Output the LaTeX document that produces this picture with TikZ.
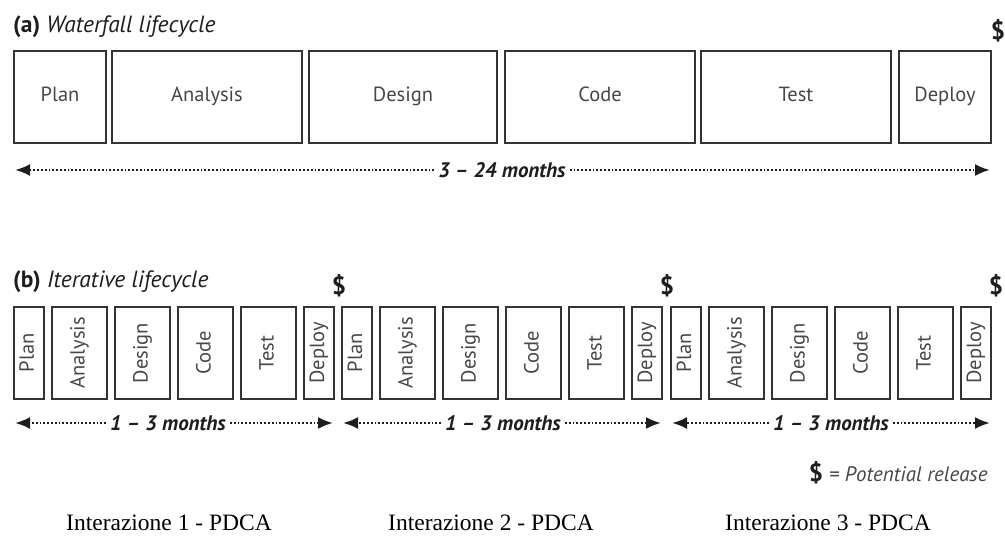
\documentclass[tikz,border=0pt]{standalone}
\usepackage{fontspec}
\setmainfont{Liberation Serif}
\newfontfamily\hum{PT Sans}
\usetikzlibrary{arrows.meta}
\definecolor{edge}{HTML}{333333}
\definecolor{lbl}{HTML}{474747}
\definecolor{ink}{HTML}{1E1E1E}
\begin{document}
\begin{tikzpicture}[x=1pt,y=-1pt,
  phase/.style={draw=edge, line width=2.2pt, fill=white, inner sep=0pt,
    text height=14pt, text depth=4pt,
    font=\hum\fontsize{20.5}{24}\selectfont, text=lbl},
  hphase/.style={phase, minimum height=92pt},
  vphase/.style={phase, rotate=90, minimum width=92pt},
  span/.style={dash pattern=on 1.8pt off 2pt, line width=2.4pt, draw=ink,
    -{Latex[length=15pt,width=12pt]}},
  dur/.style={font=\hum\bfseries\itshape\fontsize{21}{24}\selectfont, text=ink, inner sep=4pt},
  money/.style={font=\hum\bfseries\fontsize{25}{28}\selectfont, text=ink, inner sep=0pt},
  heading/.style={font=\hum\fontsize{23.5}{26}\selectfont, text=ink, anchor=base west, inner sep=0pt},
  caption/.style={font=\fontsize{23.5}{28}\selectfont, anchor=base, inner sep=0pt}
]
\useasboundingbox (0,0) rectangle (1005,543);

% ---- (a) waterfall ----
\node[heading] (ha) at (13,33) {\textbf{(a)} \textit{Waterfall lifecycle}};
\node[hphase, minimum width=92pt]  (wplan) at (60,97)  {Plan};
\node[hphase, minimum width=190pt] (wana)  at (207,97) {Analysis};
\node[hphase, minimum width=188pt] (wdes)  at (403,97) {Design};
\node[hphase, minimum width=190pt] (wcode) at (600,97) {Code};
\node[hphase, minimum width=190pt] (wtest) at (796,97) {Test};
\node[hphase, minimum width=92pt]  (wdep)  at (945,97) {Deploy};
\node[money] (wcash) at (998,31) {\$};

\node[dur] (wdur) at (502,170) {3 \textendash{} 24 months};
\coordinate (wl) at (15,170);
\coordinate (wr) at (990,170);
\draw[span] (wdur.west) -- (wl);
\draw[span] (wdur.east) -- (wr);

% ---- (b) iterative ----
\node[heading] (hb) at (13,287) {\textbf{(b)} \textit{Iterative lifecycle}};
\foreach \g/\i/\c in {13/1/168, 341/2/503, 670/3/831} {
  \node[vphase, minimum height=30pt] (p\i) at (\g+16,353)    {Plan};
  \node[vphase, minimum height=55pt] (a\i) at (\g+66.5,353)  {Analysis};
  \node[vphase, minimum height=55pt] (d\i) at (\g+129.5,353) {Design};
  \node[vphase, minimum height=55pt] (c\i) at (\g+192.5,353) {Code};
  \node[vphase, minimum height=55pt] (t\i) at (\g+255.5,353) {Test};
  \node[vphase, minimum height=30pt] (e\i) at (\g+306,353)   {Deploy};
  \node[money] (s\i) at (\g+326,286) {\$};
  \node[dur] (m\i) at (\c,423) {1 \textendash{} 3 months};
  \coordinate (l\i) at (\g+2,423);
  \coordinate (r\i) at (\g+320,423);
  \draw[span] (m\i.west) -- (l\i);
  \draw[span] (m\i.east) -- (r\i);
}

% ---- legend ----
\node[money, anchor=center] (key) at (816,473) {\$};
\node[font=\hum\itshape\fontsize{21}{24}\selectfont, text=lbl, anchor=west, inner sep=0pt]
  (keytext) at (829,474) {= Potential release};

% ---- iteration captions ----
\node[caption] (i1) at (169,530) {Interazione 1 - PDCA};
\node[caption] (i2) at (491,530) {Interazione 2 - PDCA};
\node[caption] (i3) at (828,530) {Interazione 3 - PDCA};
\end{tikzpicture}
\end{document}
